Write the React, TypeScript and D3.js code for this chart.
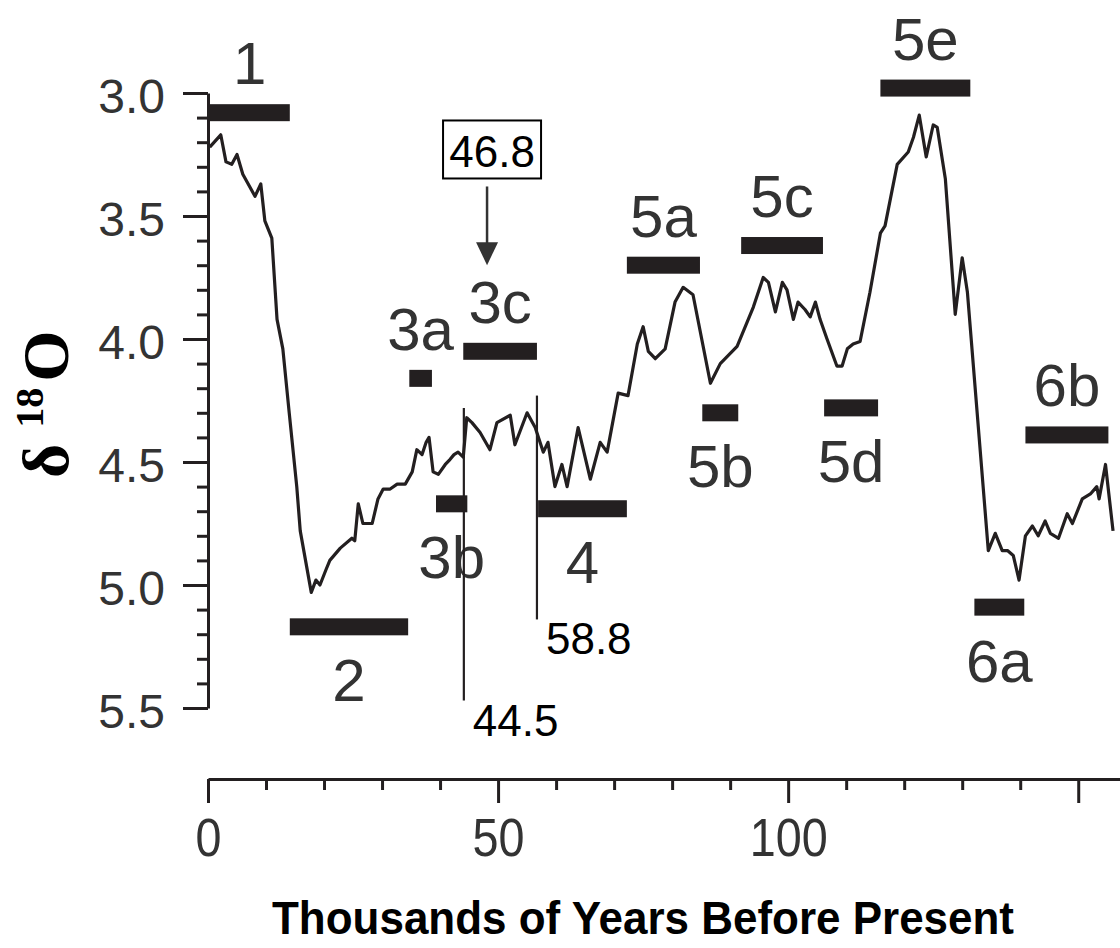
import React, { useEffect, useRef } from "react";
import * as d3 from "d3";

const W = 1120;
const H = 948;

// thousands of years before present
const ages = [
  0.3, 2.2, 3.1, 4.1, 5.0, 6.0, 8.1, 9.1, 9.8, 11.0, 11.9, 12.9, 14.0, 15.3, 15.9,
  17.8, 18.6, 19.3, 20.3, 21.0, 22.8, 24.8, 25.3, 25.9, 26.7, 28.3, 29.3, 30.2, 31.4,
  32.6, 34.0, 35.2, 36.0, 36.9, 37.6, 38.1, 38.8, 39.7, 40.9, 41.7, 42.4, 43.1, 44.0,
  44.6, 45.5, 46.9, 48.6, 49.8, 52.1, 52.9, 55.0, 56.4, 57.8, 58.6, 59.8, 61.0, 61.9,
  63.8, 65.9, 67.6, 68.8, 70.7, 72.4, 74.0, 75.0, 75.9, 77.1, 78.8, 80.5, 81.9, 83.6,
  86.6, 88.3, 91.2, 94.0, 95.7, 96.6, 97.8, 99.0, 99.8, 100.9, 101.7, 102.9, 103.8,
  104.7, 105.5, 106.7, 108.4, 109.3, 110.2, 111.2, 112.4, 114.1, 115.9, 116.7, 118.8,
  120.7, 121.6, 122.6, 123.8, 125.0, 125.7, 127.1, 128.8, 130.0, 130.9, 134.5, 135.7,
  136.9, 137.8, 138.8, 139.8, 140.9, 142.1, 143.1, 144.3, 145.2, 146.6, 148.1, 149.0,
  150.7, 152.1, 153.2, 153.6, 154.7, 156.0,
];

// d18O (per mil)
const d18O = [
  3.22, 3.17, 3.28, 3.29, 3.25, 3.33, 3.42, 3.37, 3.52, 3.59, 3.92, 4.04, 4.3, 4.6, 4.78,
  5.03, 4.98, 5.0, 4.94, 4.9, 4.85, 4.81, 4.82, 4.67, 4.75, 4.75, 4.65, 4.61, 4.61,
  4.59, 4.59, 4.54, 4.45, 4.47, 4.42, 4.4, 4.54, 4.55, 4.51, 4.49, 4.47, 4.46, 4.48,
  4.32, 4.34, 4.38, 4.45, 4.34, 4.31, 4.43, 4.3, 4.36, 4.46, 4.42, 4.6, 4.51, 4.6,
  4.36, 4.57, 4.42, 4.46, 4.22, 4.23, 4.02, 3.95, 4.05, 4.08, 4.04, 3.85, 3.79, 3.82,
  4.18, 4.1, 4.03, 3.87, 3.75, 3.77, 3.89, 3.77, 3.8, 3.92, 3.85, 3.88, 3.91,
  3.85, 3.92, 4.0, 4.11, 4.11, 4.04, 4.02, 4.01, 3.81, 3.57, 3.54, 3.29,
  3.24, 3.18, 3.09, 3.26, 3.13, 3.14, 3.35, 3.9, 3.67, 3.81, 4.86, 4.79,
  4.86, 4.86, 4.88, 4.98, 4.8, 4.76, 4.8, 4.74, 4.79, 4.81, 4.71, 4.75,
  4.65, 4.63, 4.6, 4.65, 4.51, 4.78,
];

// isotope stages
const stageNames = ["1", "2", "3a", "3b", "3c", "4", "5a", "5b", "5c", "5d", "5e", "6a", "6b"];
const stageStart = [0.3, 14.1, 34.7, 39.3, 44.0, 56.9, 72.2, 85.2, 91.9, 106.2, 115.9, 132.1, 140.9];
const stageEnd = [14.1, 34.5, 38.6, 44.7, 56.7, 72.2, 84.8, 91.4, 106.0, 115.5, 131.4, 140.7, 155.2];
const stageLevel = [3.08, 5.17, 4.16, 4.67, 4.05, 4.69, 3.7, 4.3, 3.62, 4.28, 2.98, 5.09, 4.39];
const stageLabelBelow = [false, true, false, true, false, true, false, true, false, true, false, true, false];

const yTicks = [3.0, 3.5, 4.0, 4.5, 5.0, 5.5];
const xTicks = [0, 50, 100, 150];
const xTickLabels = ["0", "50", "100", ""];

// boundary markers
const markerAges = [44.1, 56.7];
const markerTop = [4.28, 4.23];
const markerBottom = [5.47, 5.14];
const markerLabels = ["44.5", "58.8"];

const calloutAge = 48.1;
const calloutLabel = "46.8";

const INK = "#231f20";
const GREY = "#333";
const SANS = "'Liberation Sans', Arial, sans-serif";

const App = () => {
    const ref = useRef(null);

    useEffect(() => {
        const svg = d3.select(ref.current);
        svg.selectAll("*").remove();

        const x = d3.scaleLinear().domain([0, 157.2]).range([208, 1120]);
        const y = d3.scaleLinear().domain([3, 5.5]).range([93, 708]);

        // y axis
        const minorY = d3.range(30, 56).map(v => v / 10).filter(v => Math.round(v * 10) % 5 !== 0);
        const gyMinor = svg.append("g")
            .attr("transform", "translate(208,0)")
            .call(d3.axisLeft(y).tickValues(minorY).tickSize(11).tickFormat(() => ""));
        gyMinor.select(".domain").remove();
        gyMinor.selectAll(".tick line").attr("stroke", INK).attr("stroke-width", 3);

        const gy = svg.append("g")
            .attr("transform", "translate(208,0)")
            .call(d3.axisLeft(y).tickValues(yTicks).tickSize(25).tickSizeOuter(0).tickPadding(18)
                .tickFormat(d3.format(".1f")));
        gy.select(".domain").attr("stroke", INK).attr("stroke-width", 3);
        gy.selectAll(".tick line").attr("stroke", INK).attr("stroke-width", 3);
        gy.selectAll(".tick text")
            .attr("font-size", 48).attr("font-family", SANS).attr("fill", GREY).attr("dy", "0.4em");

        // x axis
        const minorX = d3.range(10, 150, 10).filter(v => v % 50 !== 0);
        const gxMinor = svg.append("g")
            .attr("transform", "translate(0,779)")
            .call(d3.axisBottom(x).tickValues(minorX).tickSize(11).tickFormat(() => ""));
        gxMinor.select(".domain").remove();
        gxMinor.selectAll(".tick line").attr("stroke", INK).attr("stroke-width", 3);

        const gx = svg.append("g")
            .attr("transform", "translate(0,779)")
            .call(d3.axisBottom(x).tickValues(xTicks).tickSize(24).tickSizeOuter(0).tickPadding(15)
                .tickFormat((d, i) => xTickLabels[i]));
        gx.select(".domain").attr("stroke", INK).attr("stroke-width", 3);
        gx.selectAll(".tick line").attr("stroke", INK).attr("stroke-width", 3);
        gx.selectAll(".tick text")
            .attr("font-size", 54).attr("font-family", SANS).attr("fill", GREY)
            .attr("textLength", (d, i) => xTickLabels[i].length * 26)
            .attr("lengthAdjust", "spacingAndGlyphs");

        // titles
        svg.append("text")
            .attr("x", 643).attr("y", 934)
            .attr("text-anchor", "middle")
            .attr("font-family", SANS).attr("font-weight", "bold").attr("font-size", 47)
            .attr("textLength", 742).attr("lengthAdjust", "spacingAndGlyphs")
            .attr("fill", "#000")
            .text("Thousands of Years Before Present");

        const yt = svg.append("text")
            .attr("transform", "translate(68,478) rotate(-90)")
            .attr("font-family", "'Liberation Serif', 'Times New Roman', serif")
            .attr("font-weight", "bold")
            .attr("fill", "#000");
        yt.append("tspan").attr("font-size", 66).text("δ");
        yt.append("tspan").attr("font-size", 40).attr("dx", 16).attr("dy", -25).text("18");
        yt.append("tspan").attr("font-size", 66).attr("dx", 6).attr("dy", 25).text("O");

        // curve
        const series = ages.map((a, i) => [a, d18O[i]]);
        const line = d3.line().x(d => x(d[0])).y(d => y(d[1]));
        svg.append("path")
            .attr("d", line(series))
            .attr("fill", "none")
            .attr("stroke", INK)
            .attr("stroke-width", 3.2)
            .attr("stroke-linejoin", "round");

        // stage bars
        const stages = stageNames.map((n, i) => ({
            name: n, start: stageStart[i], end: stageEnd[i], level: stageLevel[i], below: stageLabelBelow[i]
        }));
        const barH = 17;
        svg.append("g").selectAll("rect")
            .data(stages)
            .enter()
            .append("rect")
            .attr("x", d => x(d.start))
            .attr("y", d => y(d.level) - barH / 2)
            .attr("width", d => x(d.end) - x(d.start))
            .attr("height", barH)
            .attr("fill", INK);
        svg.append("g").selectAll("text")
            .data(stages)
            .enter()
            .append("text")
            .attr("x", d => (x(d.start) + x(d.end)) / 2)
            .attr("y", d => d.below ? y(d.level) + barH / 2 + 66 : y(d.level) - barH / 2 - 20)
            .attr("text-anchor", "middle")
            .attr("font-family", SANS).attr("font-size", 60).attr("fill", GREY)
            .text(d => d.name);

        // boundary markers
        markerAges.forEach((a, i) => {
            svg.append("line")
                .attr("x1", x(a)).attr("x2", x(a))
                .attr("y1", y(markerTop[i])).attr("y2", y(markerBottom[i]))
                .attr("stroke", INK).attr("stroke-width", 2.2);
            svg.append("text")
                .attr("x", x(a) + 9).attr("y", y(markerBottom[i]) + 35)
                .attr("font-family", SANS).attr("font-size", 44).attr("fill", "#000")
                .text(markerLabels[i]);
        });

        // callout box + arrow
        const ax = x(calloutAge);
        const aTop = y(3.38);
        const aTip = y(3.70);
        svg.append("line")
            .attr("x1", ax).attr("x2", ax).attr("y1", aTop).attr("y2", aTip - 20)
            .attr("stroke", GREY).attr("stroke-width", 2.5);
        svg.append("path")
            .attr("d", `M${ax - 11},${aTip - 23}L${ax + 11},${aTip - 23}L${ax},${aTip}Z`)
            .attr("fill", GREY);
        svg.append("rect")
            .attr("x", ax - 44).attr("y", aTop - 66)
            .attr("width", 98).attr("height", 58)
            .attr("fill", "#fff").attr("stroke", "#000").attr("stroke-width", 2);
        svg.append("text")
            .attr("x", ax + 5).attr("y", aTop - 19)
            .attr("text-anchor", "middle")
            .attr("font-family", SANS).attr("font-size", 44).attr("fill", "#000")
            .text(calloutLabel);
    }, []);

    return (
        <svg
            ref={ref}
            width={W}
            height={H}
            style={{ position: "absolute", left: 0, top: 0, background: "#fff" }}
        />
    );
};

export default App;
